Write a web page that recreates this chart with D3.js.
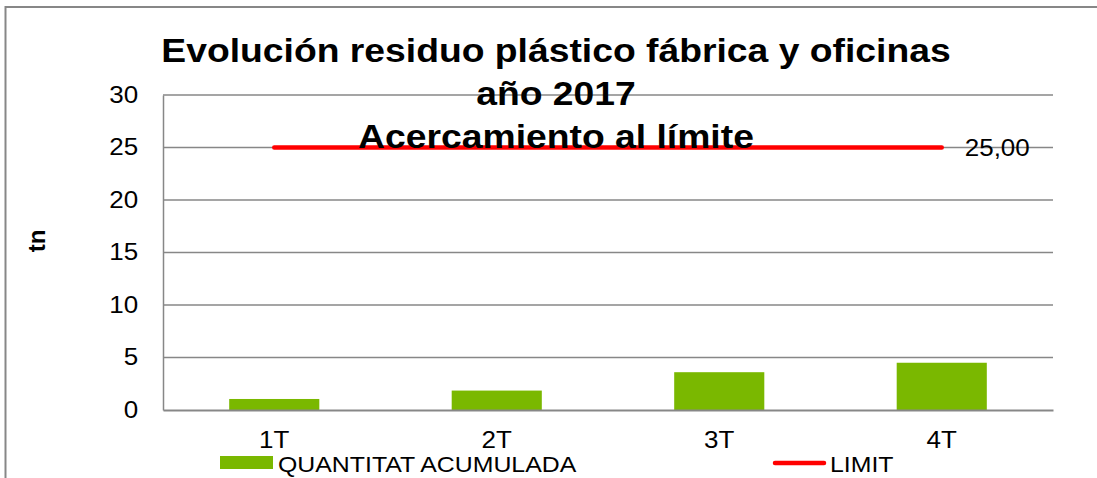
<!DOCTYPE html>
<html>
<head>
<meta charset="utf-8">
<script src="https://cdn.jsdelivr.net/npm/d3@7"></script>
<style>
  html, body { margin: 0; padding: 0; background: #fff; }
  svg { display: block; font-family: "Liberation Sans", Arial, sans-serif; }
  text { font-family: "Liberation Sans", Arial, sans-serif; }
</style>
</head>
<body>
<svg id="chart" width="1097" height="478"></svg>
<script>
const categories = ["1T", "2T", "3T", "4T"];
const quantitat = [1.05, 1.85, 3.6, 4.5];
const limit = [25, 25, 25, 25];
const yTicks = [0, 5, 10, 15, 20, 25, 30];
const titleLines = ["Evolución residuo plástico fábrica y oficinas", "año 2017", "Acercamiento al límite"];
const seriesNames = ["QUANTITAT ACUMULADA", "LIMIT"];
const limitLabel = "25,00";

(function () {
const svg = d3.select("#chart");
const pLeft = 163, pRight = 1053, pTop = 95, pBottom = 410;
const sx = 1.13; // horizontal text stretch seen in the reference

// outer frame
svg.append("rect").attr("x", 5.5).attr("y", 7).attr("width", 1200).attr("height", 600)
  .attr("fill", "none").attr("stroke", "#878787").attr("stroke-width", 2);

const x = d3.scaleBand().domain(categories).range([pLeft, pRight]).paddingInner(0.595).paddingOuter(0.2975);
const y = d3.scaleLinear().domain([0, 30]).range([pBottom, pTop]);

// gridlines
svg.append("g").selectAll("line").data(yTicks.filter(d => d > 0)).join("line")
  .attr("x1", pLeft).attr("x2", pRight)
  .attr("y1", d => y(d)).attr("y2", d => y(d))
  .attr("stroke", "#878787").attr("stroke-width", 1.5);

// y axis
const yAxis = svg.append("g").attr("transform", `translate(${pLeft},0)`)
  .call(d3.axisLeft(y).tickValues(yTicks).tickSize(0).tickPadding(22).tickFormat(d3.format("d")));
yAxis.select(".domain").attr("stroke", "#878787").attr("stroke-width", 1.5);
yAxis.selectAll("text").attr("font-size", 23).attr("fill", "#000")
  .attr("font-family", "Liberation Sans, Arial, sans-serif")
  .attr("transform", `scale(${sx},1)`);

// bars
svg.append("g").selectAll("rect").data(quantitat).join("rect")
  .attr("x", (d, i) => x(categories[i]))
  .attr("width", x.bandwidth())
  .attr("y", d => y(d))
  .attr("height", d => y(0) - y(d))
  .attr("fill", "#7AB800");

// x axis
const xAxis = svg.append("g").attr("transform", `translate(0,${pBottom})`)
  .call(d3.axisBottom(x).tickSize(0).tickPadding(22));
xAxis.select(".domain").attr("stroke", "#878787").attr("stroke-width", 2);
xAxis.selectAll("text").attr("font-size", 23).attr("fill", "#000")
  .attr("font-family", "Liberation Sans, Arial, sans-serif")
  .attr("transform", `scale(${sx},1)`);

// limit line
const line = d3.line().x((d, i) => x(categories[i]) + x.bandwidth() / 2).y(d => y(d));
svg.append("path").datum(limit).attr("d", line)
  .attr("fill", "none").attr("stroke", "#FF0000").attr("stroke-width", 4.5).attr("stroke-linecap", "round");

function stretchedText(tx, ty, str, size, weight, anchor) {
  return svg.append("text")
    .attr("transform", `translate(${tx},${ty}) scale(${sx},1)`)
    .attr("text-anchor", anchor || "start")
    .attr("font-size", size).attr("font-weight", weight || "normal")
    .attr("fill", "#000").text(str);
}

stretchedText(x(categories[3]) + x.bandwidth() / 2 + 23, y(limit[3]) + 8, limitLabel, 23);

// y axis title
svg.append("text")
  .attr("transform", "translate(45,241) rotate(-90)")
  .attr("text-anchor", "middle").attr("font-size", 24).attr("font-weight", "bold").text("tn");

// legend
svg.append("rect").attr("x", 220).attr("y", 456).attr("width", 53).attr("height", 13).attr("fill", "#7AB800");
stretchedText(278, 472, seriesNames[0], 22);
svg.append("line").attr("x1", 775).attr("x2", 824).attr("y1", 463).attr("y2", 463)
  .attr("stroke", "#FF0000").attr("stroke-width", 4.5).attr("stroke-linecap", "round");
stretchedText(830, 472, seriesNames[1], 22);

// title
titleLines.forEach((t, i) => stretchedText(556, 62 + i * 43, t, 33, "bold", "middle"));
})();
</script>
</body>
</html>
